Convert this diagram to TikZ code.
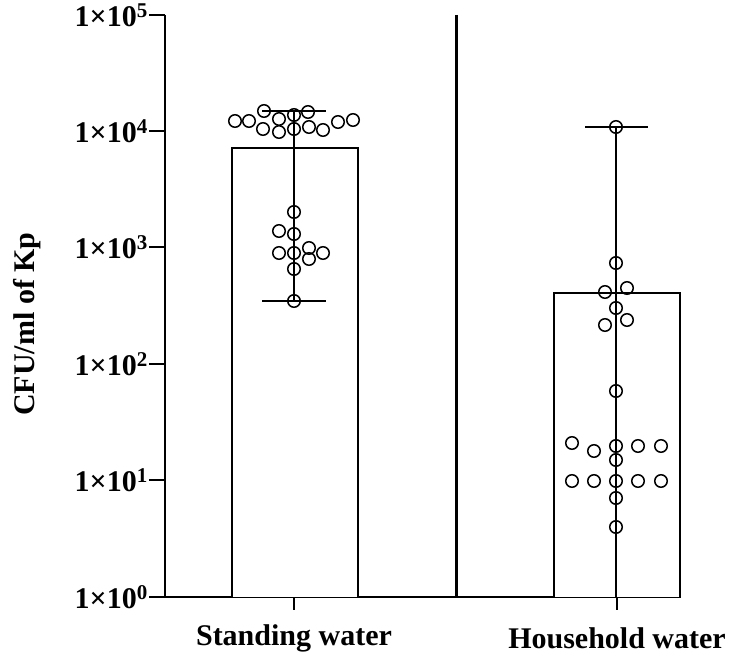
\documentclass[tikz,border=0pt]{standalone}
\usepackage{fontspec}
\setmainfont{Liberation Serif}
\begin{document}
\begin{tikzpicture}[x=1pt,y=-1pt,
  pt/.style={circle,draw,line width=1.5pt,minimum size=12.5pt,inner sep=0pt},
  lab/.style={font=\bfseries\fontsize{30}{32}\selectfont}]
\useasboundingbox (0,0) rectangle (750,661);
% axis
\draw[line width=2pt] (165,15) -- (165,597) -- (681,597);
\draw[line width=3pt] (456,15) -- (456,597);
\foreach \y/\e in {15/5,131/4,247/3,364/2,480/1,597/0}{
  \draw[line width=2pt] (149,\y) -- (165,\y);
  \node[lab,anchor=east,inner sep=1pt] (t\e) at (149,\y) {1×10\textsuperscript{\e}};
}
\draw[line width=2pt] (294,597) -- (294,610);
\draw[line width=2pt] (617,597) -- (617,610);
\node[lab] (xa) at (294,638) {Standing water};
\node[lab] (xb) at (617,638) {Household water};
\node[lab,rotate=90] (yl) at (27,324) {CFU/ml of Kp};
% bars
\draw[line width=2pt,fill=white] (232,597) -- (232,148) -- (358,148) -- (358,597);
\draw[line width=2pt,fill=white] (554,597) -- (554,293) -- (680,293) -- (680,597);
% error bars
\draw[line width=2pt] (294,111) -- (294,301) (262,111) -- (326,111) (262,301) -- (326,301);
\draw[line width=2pt] (616,127) -- (616,597) (585,127) -- (648,127);
% points
\foreach \x/\y in {264/111,308/112,294/115,279/119,235/121,249/121,338/122,353/120,309/127,294/129,263/129,279/132,323/130,
  294/212,279/231,294/234,279/253,294/253,309/248,323/253,309/259,294/269,294/301}
  \node[pt] at (\x,\y) {};
\foreach \x/\y in {616/127,616/263,605/292,627/288,616/308,605/325,627/320,616/391,572/443,594/451,616/446,638/446,661/446,616/460,
  572/481,594/481,616/481,638/481,661/481,616/498,616/527}
  \node[pt] at (\x,\y) {};
\end{tikzpicture}
\end{document}
